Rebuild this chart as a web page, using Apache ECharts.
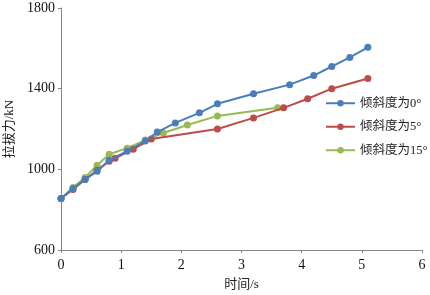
<!DOCTYPE html>
<html>
<head>
<meta charset="utf-8">
<script src="https://cdn.jsdelivr.net/npm/echarts@6/dist/echarts.min.js"></script>
<style>
html,body{margin:0;padding:0;background:#fff;}
#chart{width:430px;height:295px;}
</style>
</head>
<body>
<div id="chart"></div>
<script>
// 倾斜度为0°
var t0 = [0, 0.2, 0.4, 0.6, 0.8, 1.1, 1.4, 1.6, 1.9, 2.3, 2.6, 3.2, 3.8, 4.2, 4.5, 4.8, 5.1];
var v0 = [855, 905, 950, 990, 1045, 1090, 1140, 1185, 1230, 1280, 1325, 1375, 1420, 1465, 1510, 1555, 1605];
// 倾斜度为5°
var t5 = [0, 0.2, 0.4, 0.6, 0.8, 0.9, 1.2, 1.5, 2.6, 3.2, 3.7, 4.1, 4.5, 5.1];
var v5 = [855, 900, 950, 995, 1040, 1055, 1100, 1150, 1200, 1255, 1305, 1350, 1400, 1450];
// 倾斜度为15°
var t15 = [0, 0.2, 0.4, 0.6, 0.8, 1.1, 1.4, 1.7, 2.1, 2.6, 3.6];
var v15 = [855, 910, 960, 1020, 1075, 1105, 1145, 1180, 1220, 1265, 1305];

var names = ['倾斜度为0°', '倾斜度为5°', '倾斜度为15°'];
var colors = ['#4a7ebb', '#be4b48', '#98b954'];

function pairs(t, v) {
    var out = [];
    for (var i = 0; i < t.length; i++) out.push([t[i], v[i]]);
    return out;
}
function mkSeries(i, t, v) {
    return {
        name: names[i],
        type: 'line',
        data: pairs(t, v),
        symbol: 'circle',
        symbolSize: 7,
        itemStyle: {color: colors[i]},
        lineStyle: {color: colors[i], width: 2},
        z: 10 - i
    };
}

var chart = echarts.init(document.getElementById('chart'));
var font = '"Liberation Serif", "Noto Sans CJK SC", serif';
var axisLine = {show: true, lineStyle: {color: '#868686', width: 1}};
chart.setOption({
    animation: false,
    textStyle: {fontFamily: font},
    grid: {left: 61, right: 8, top: 8, bottom: 45, containLabel: false, outerBoundsMode: 'none'},
    legend: {
        orient: 'vertical',
        left: 320,
        top: 92,
        itemWidth: 29,
        itemHeight: 8,
        itemGap: 11,
        textStyle: {fontFamily: font, fontSize: 12.5, color: '#222'},
        data: names
    },
    xAxis: {
        type: 'value',
        min: 0, max: 6, interval: 1,
        name: '时间/s',
        nameLocation: 'middle',
        nameGap: 28,
        nameTextStyle: {fontFamily: font, fontSize: 13, color: '#222'},
        axisLine: axisLine,
        axisTick: {show: true, length: 3, lineStyle: {color: '#868686'}},
        axisLabel: {fontFamily: font, fontSize: 14, color: '#111', margin: 8},
        splitLine: {show: false}
    },
    yAxis: {
        type: 'value',
        min: 600, max: 1800, interval: 400,
        name: '拉拔力/kN',
        nameLocation: 'middle',
        nameGap: 42,
        nameTextStyle: {fontFamily: font, fontSize: 13, color: '#222'},
        axisLine: axisLine,
        axisTick: {show: true, length: 3, lineStyle: {color: '#868686'}},
        axisLabel: {fontFamily: font, fontSize: 14, color: '#111', margin: 6,
            formatter: function (v) { return String(v); }},
        splitLine: {show: false}
    },
    series: [mkSeries(0, t0, v0), mkSeries(1, t5, v5), mkSeries(2, t15, v15)]
});
</script>
</body>
</html>
